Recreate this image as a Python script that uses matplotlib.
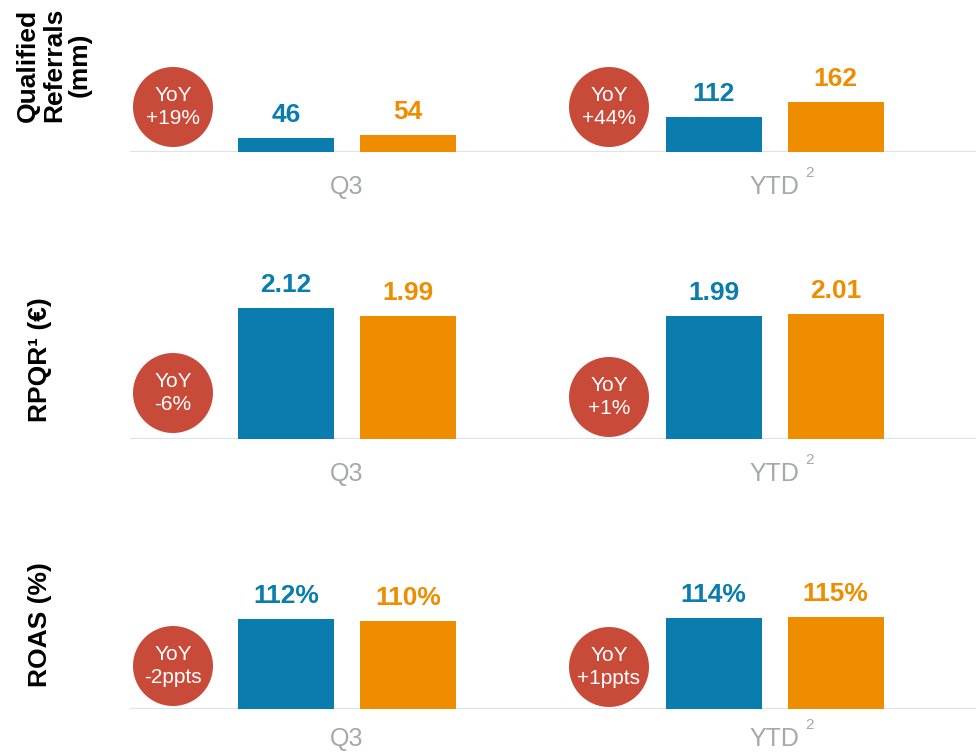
import matplotlib
matplotlib.use("Agg")
import matplotlib.pyplot as plt
from matplotlib.patches import Ellipse


# ----------------------------
# Data
# ----------------------------

groups = ["Q3", "YTD"]

referrals_prev = [46, 112]
referrals_curr = [54, 162]
referrals_labels_prev = ["46", "112"]
referrals_labels_curr = ["54", "162"]
referrals_yoy = ["+19%", "+44%"]

rpqr_prev = [2.12, 1.99]
rpqr_curr = [1.99, 2.01]
rpqr_labels_prev = ["2.12", "1.99"]
rpqr_labels_curr = ["1.99", "2.01"]
rpqr_yoy = ["-6%", "+1%"]

roas_prev = [112, 114]
roas_curr = [110, 115]
roas_labels_prev = ["112%", "114%"]
roas_labels_curr = ["110%", "115%"]
roas_yoy = ["-2ppts", "+1ppts"]

row_titles = ["Qualified\nReferrals\n(mm)", "RPQR\u00b9 (\u20ac)", "ROAS (%)"]


# ----------------------------
# Style
# ----------------------------

W, H = 976, 752

BLUE = "#0a7cae"
ORANGE = "#ee8d00"
RED = "#c84b3a"
AXIS_GREY = "#dde3e8"
LABEL_GREY = "#a6a8aa"

plt.rcParams["font.family"] = ["Liberation Sans", "DejaVu Sans"]


def fx(x):
    return x / W


def fy(y):
    return 1 - y / H


# ----------------------------
# One row of bars
# ----------------------------

def plot_row(fig, prev, curr, lab_prev, lab_curr, yoy, title,
             baseline, top, ymax, circle_y, title_xy, label_drop=30):

    ax = fig.add_axes([fx(130), fy(baseline), fx(976) - fx(130), fy(top) - fy(baseline)])

    spacing = 427.5
    width = 96 / spacing
    offset = 61 / spacing
    x = list(range(len(groups)))

    ax.bar([i - offset for i in x], prev, width=width, color=BLUE, zorder=2)
    ax.bar([i + offset for i in x], curr, width=width, color=ORANGE, zorder=2)

    for i in x:
        ax.annotate(lab_prev[i], (i - offset, prev[i]), xytext=(0, 11.5),
                    textcoords="offset points", ha="center", va="baseline",
                    fontsize=19, fontweight="bold", color=BLUE)
        ax.annotate(lab_curr[i], (i + offset, curr[i]), xytext=(0, 11.5),
                    textcoords="offset points", ha="center", va="baseline",
                    fontsize=19, fontweight="bold", color=ORANGE)

        ax.annotate(groups[i], (i, 0), xytext=(0, -label_drop),
                    textcoords="offset points", ha="center", va="baseline",
                    fontsize=18, color=LABEL_GREY)

    # superscript on YTD
    ax.annotate("2", (1, 0), xytext=(25, -label_drop + 12),
                textcoords="offset points", ha="center", va="baseline",
                fontsize=11, color=LABEL_GREY)

    ax.axhline(0, color=AXIS_GREY, lw=1.6, zorder=1)

    ax.set_xlim((130 - 347) / spacing, (976 - 347) / spacing)
    ax.set_ylim(0, ymax)
    ax.axis("off")

    # YoY badges
    for cx, cy, txt in zip([173, 609], circle_y, yoy):
        fig.patches.append(
            Ellipse((fx(cx), fy(cy)), 80 / W, 80 / H,
                    transform=fig.transFigure, facecolor=RED,
                    edgecolor="none", zorder=3)
        )
        fig.text(fx(cx), fy(cy), "YoY\n" + txt, ha="center", va="center",
                 fontsize=15, color="white", linespacing=1.25, zorder=4)

    fig.text(fx(title_xy[0]), fy(title_xy[1]), title, rotation=90,
             ha="center", va="center", multialignment="center",
             fontsize=19, fontweight="bold", linespacing=1.1)


# ----------------------------
# Main
# ----------------------------

def main():

    fig = plt.figure(figsize=(W / 100, H / 100), dpi=100)

    plot_row(fig, referrals_prev, referrals_curr,
             referrals_labels_prev, referrals_labels_curr, referrals_yoy,
             row_titles[0], baseline=152, top=40, ymax=112 / 0.309,
             circle_y=[107, 107], title_xy=(54, 65))

    plot_row(fig, rpqr_prev, rpqr_curr,
             rpqr_labels_prev, rpqr_labels_curr, rpqr_yoy,
             row_titles[1], baseline=439, top=250, ymax=189 / 62.0,
             circle_y=[393, 397], title_xy=(40, 360))

    plot_row(fig, roas_prev, roas_curr,
             roas_labels_prev, roas_labels_curr, roas_yoy,
             row_titles[2], baseline=709, top=560, ymax=149 / 0.8,
             circle_y=[666, 667], title_xy=(40, 625), label_drop=26.5)

    fig.savefig("out.png", dpi=100)

    plt.close(fig)


if __name__ == "__main__":
    main()
